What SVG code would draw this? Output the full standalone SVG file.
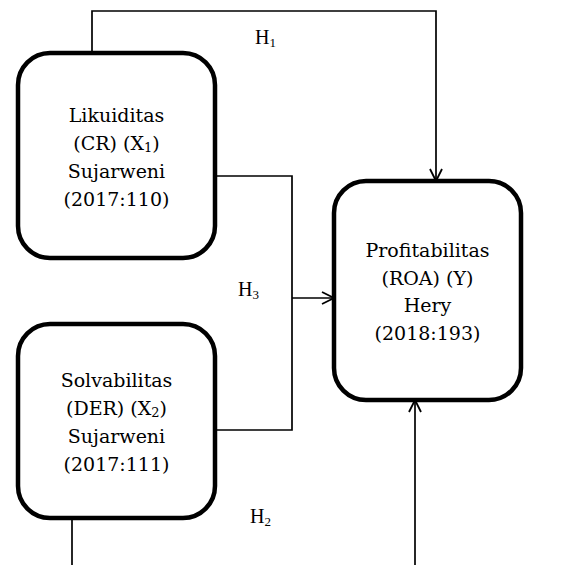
<svg xmlns="http://www.w3.org/2000/svg" width="564" height="565" viewBox="0 0 564 565">
<defs>
<marker id="arr" viewBox="0 0 14 14" refX="13" refY="7" markerWidth="14" markerHeight="14" markerUnits="userSpaceOnUse" orient="auto">
<path d="M1,1 L13,7 L1,13" fill="none" stroke="#000" stroke-width="1.8"/>
</marker>
</defs>
<style>
.box{fill:#fff;stroke:#000;stroke-width:4.5}
.lbl{font-family:"DejaVu Serif","Liberation Serif",serif;font-size:19px;fill:#000;text-anchor:middle}
.h{font-family:"Liberation Serif",serif;font-size:20px;fill:#000}
.sub{font-size:13px}
.c{fill:none;stroke:#000;stroke-width:1.7}
</style>
<rect width="564" height="565" fill="#fff"/>
<g id="connectors">
<polyline class="c" points="92,53 92,11 436,11 436,181" marker-end="url(#arr)"/>
<polyline class="c" points="215,176 292,176 292,430 215,430"/>
<line class="c" x1="292" y1="298" x2="334" y2="298" marker-end="url(#arr)"/>
<line class="c" x1="72" y1="518" x2="72" y2="565"/>
<line class="c" x1="415" y1="565" x2="415" y2="400" marker-end="url(#arr)"/>
<text class="h" x="255" y="44">H<tspan class="sub" dy="3">1</tspan></text>
<text class="h" x="238" y="296">H<tspan class="sub" dy="3">3</tspan></text>
<text class="h" x="250" y="523">H<tspan class="sub" dy="3">2</tspan></text>
</g>
<g id="likuiditas">
<rect class="box" x="18" y="53" width="197" height="205" rx="32"/>
<text class="lbl" x="116.5" y="122">Likuiditas</text>
<text class="lbl" x="116.5" y="150">(CR) (X<tspan font-size="13" dy="2">1</tspan><tspan dy="-2">)</tspan></text>
<text class="lbl" x="116.5" y="178">Sujarweni</text>
<text class="lbl" x="116.5" y="206">(2017:110)</text>
</g>
<g id="solvabilitas">
<rect class="box" x="18" y="324" width="197" height="194" rx="32"/>
<text class="lbl" x="116.5" y="387">Solvabilitas</text>
<text class="lbl" x="116.5" y="415">(DER) (X<tspan font-size="13" dy="2">2</tspan><tspan dy="-2">)</tspan></text>
<text class="lbl" x="116.5" y="443">Sujarweni</text>
<text class="lbl" x="116.5" y="471">(2017:111)</text>
</g>
<g id="profitabilitas">
<rect class="box" x="334" y="181" width="187" height="219" rx="32"/>
<text class="lbl" x="427.5" y="257">Profitabilitas</text>
<text class="lbl" x="427.5" y="285">(ROA) (Y)</text>
<text class="lbl" x="427.5" y="312">Hery</text>
<text class="lbl" x="427.5" y="340">(2018:193)</text>
</g>
</svg>
